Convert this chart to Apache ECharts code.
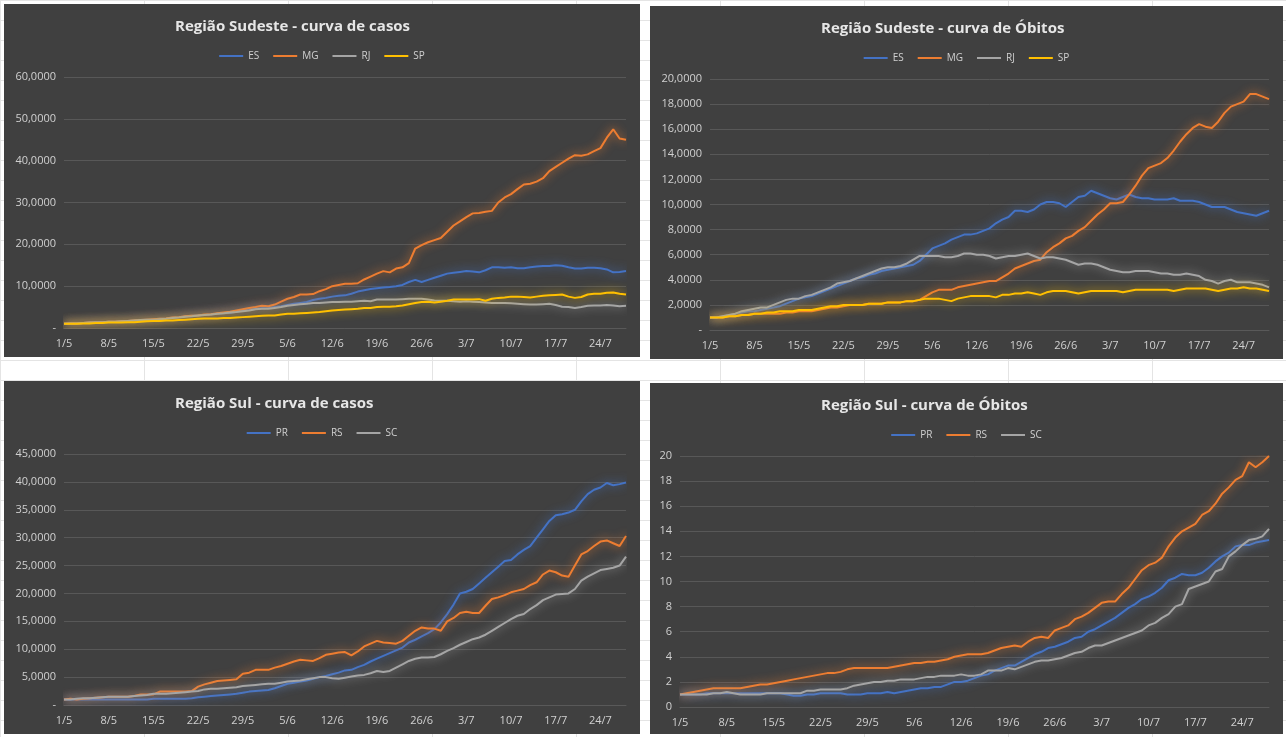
<!DOCTYPE html>
<html>
<head>
<meta charset="utf-8">
<script src="https://cdn.jsdelivr.net/npm/echarts@6/dist/echarts.min.js"></script>
<style>
body{margin:0;background:#fff;width:1286px;height:737px;position:relative;overflow:hidden;
 background-image:linear-gradient(#e4e4e4 1px,transparent 1px),linear-gradient(90deg,#e4e4e4 1px,transparent 1px);
 background-size:144px 20px;}
.p{position:absolute;background:#404040;}
</style>
</head>
<body>
<div id="c1" class="p" style="left:4px;top:4px;width:636px;height:353px"></div>
<div id="c2" class="p" style="left:650px;top:6px;width:633px;height:353px"></div>
<div id="c3" class="p" style="left:4px;top:381px;width:636px;height:353px"></div>
<div id="c4" class="p" style="left:650px;top:383px;width:633px;height:351px"></div>
<script>
// dias de 1/5 a 28/7
var dias = [];
[[5,31],[6,30],[7,28]].forEach(function(m){ for(var d=1; d<=m[1]; d++) dias.push(d+'/'+m[0]); });

// Sudeste - casos
var casosES = [1.0,1.1,1.1,1.2,1.3,1.3,1.4, 1.5,1.5,1.6,1.7,1.8,1.9,2.0, 2.1,2.2,2.3,2.5,2.6,2.8,2.9, 3.0,3.1,3.2,3.4,3.5,3.6,3.9, 4.2,4.5,4.6,4.7,4.8,5.0,5.2, 5.5,5.8,6.0,6.2,6.7,7.0,7.2, 7.5,7.7,7.8,8.2,8.7,9.0,9.3, 9.5,9.7,9.8,10.0,10.3,11.0,11.5, 11.0,11.5,12.0,12.5,13.0,13.2,13.4, 13.6,13.5,13.3,13.8,14.5,14.5,14.4, 14.5,14.3,14.3,14.5,14.7,14.8,14.8, 15.0,14.9,14.5,14.2,14.2,14.4,14.4, 14.3,14.0,13.3,13.4,13.6];
var casosMG = [1.0,1.1,1.1,1.2,1.3,1.3,1.4, 1.5,1.5,1.6,1.7,1.8,1.9,2.0, 2.1,2.2,2.3,2.5,2.6,2.8,2.9, 3.0,3.2,3.3,3.5,3.7,3.9,4.2, 4.5,4.8,5.0,5.3,5.2,5.6,6.3, 7.0,7.4,8.0,8.0,8.1,8.8,9.3, 10.0,10.3,10.6,10.6,10.7,11.6,12.3, 13.0,13.6,13.3,14.2,14.5,15.5,19.0, 19.8,20.5,21.0,21.5,23.0,24.5,25.5, 26.5,27.4,27.5,27.8,28.0,30.0,31.2, 32.0,33.2,34.3,34.5,35.0,35.8,37.5, 38.5,39.5,40.5,41.3,41.2,41.5,42.3, 43.0,45.5,47.5,45.3,45.0];
var casosRJ = [1.0,1.1,1.1,1.2,1.3,1.4,1.4, 1.5,1.5,1.6,1.7,1.8,1.9,2.0, 2.0,2.1,2.2,2.4,2.5,2.7,2.8, 3.0,3.1,3.2,3.4,3.5,3.7,3.8, 4.0,4.2,4.5,4.6,4.6,4.8,5.0, 5.3,5.5,5.7,5.8,6.0,6.0,6.1, 6.2,6.2,6.3,6.3,6.4,6.5,6.4, 6.8,6.8,6.8,6.8,6.9,7.0,7.0, 7.0,6.8,6.6,6.5,6.5,6.4,6.3, 6.4,6.3,6.2,6.1,6.0,6.0,6.0, 5.9,5.8,5.7,5.6,5.6,5.7,5.8, 5.5,5.1,5.0,4.8,5.0,5.3,5.4, 5.4,5.5,5.4,5.2,5.3];
var casosSP = [1.0,1.0,1.0,1.1,1.1,1.2,1.2, 1.3,1.3,1.3,1.4,1.4,1.5,1.6, 1.7,1.7,1.8,1.8,1.9,2.0,2.1, 2.2,2.3,2.3,2.3,2.4,2.4,2.5, 2.6,2.7,2.8,2.9,3.0,3.0,3.2, 3.4,3.4,3.5,3.6,3.7,3.8,4.0, 4.2,4.3,4.4,4.5,4.6,4.8,4.8, 5.0,5.1,5.1,5.2,5.4,5.7,6.0, 6.2,6.3,6.1,6.3,6.5,6.8,6.8, 6.8,6.8,6.9,6.5,7.0,7.2,7.3, 7.5,7.5,7.4,7.3,7.5,7.7,7.8, 7.9,8.0,7.5,7.2,7.4,8.0,8.2, 8.2,8.4,8.5,8.2,8.0];

// Sudeste - óbitos
var obitosES = [1.0,1.0,1.1,1.2,1.3,1.4,1.5, 1.5,1.6,1.7,1.8,1.9,2.1,2.3, 2.5,2.6,2.7,2.9,3.1,3.3,3.5, 3.7,3.9,4.1,4.2,4.4,4.5,4.7, 4.8,4.9,5.0,5.1,5.2,5.5,6.0, 6.5,6.7,6.9,7.2,7.4,7.6,7.6, 7.7,7.9,8.1,8.5,8.8,9.0,9.5, 9.5,9.4,9.6,10.0,10.2,10.2,10.1, 9.8,10.2,10.6,10.7,11.1,10.9,10.7, 10.5,10.4,10.6,10.8,10.6,10.5,10.5, 10.4,10.4,10.4,10.5,10.3,10.3,10.3, 10.2,10.0,9.8,9.8,9.8,9.6,9.4, 9.3,9.2,9.1,9.3,9.5];
var obitosMG = [1.0,1.0,1.0,1.1,1.1,1.2,1.2, 1.3,1.3,1.3,1.3,1.3,1.4,1.4, 1.5,1.5,1.5,1.6,1.7,1.8,1.8, 1.9,2.0,2.0,2.0,2.1,2.1,2.1, 2.2,2.2,2.2,2.3,2.3,2.4,2.7, 3.0,3.2,3.2,3.2,3.4,3.5,3.6, 3.7,3.8,3.9,3.9,4.2,4.5,4.9, 5.1,5.3,5.5,5.6,6.2,6.6,6.9, 7.3,7.5,7.9,8.2,8.7,9.2,9.6, 10.1,10.1,10.2,10.8,11.5,12.3,12.9, 13.1,13.3,13.7,14.3,15.0,15.6,16.1, 16.4,16.2,16.1,16.6,17.3,17.8,18.0, 18.2,18.8,18.8,18.6,18.4];
var obitosRJ = [1.0,1.0,1.1,1.2,1.3,1.5,1.6, 1.7,1.8,1.8,2.0,2.2,2.4,2.5, 2.5,2.7,2.8,3.0,3.2,3.4,3.7, 3.8,3.9,4.1,4.3,4.5,4.7,4.9, 5.0,5.0,5.1,5.3,5.6,5.9,5.9, 5.9,5.9,5.8,5.8,5.9,6.1,6.1, 6.0,6.0,5.9,5.7,5.8,5.9,5.9, 6.0,6.1,5.9,5.7,5.8,5.8,5.7, 5.6,5.4,5.2,5.3,5.3,5.2,5.0, 4.8,4.7,4.6,4.6,4.7,4.7,4.7, 4.6,4.5,4.5,4.4,4.4,4.5,4.4, 4.3,4.0,3.9,3.7,3.9,4.0,3.8, 3.8,3.8,3.7,3.6,3.4];
var obitosSP = [1.0,1.0,1.0,1.1,1.1,1.2,1.2, 1.3,1.3,1.4,1.4,1.5,1.5,1.5, 1.6,1.6,1.6,1.7,1.8,1.9,1.9, 2.0,2.0,2.0,2.0,2.1,2.1,2.1, 2.2,2.2,2.2,2.3,2.3,2.4,2.5, 2.5,2.5,2.4,2.3,2.5,2.6,2.7, 2.7,2.7,2.7,2.6,2.8,2.8,2.9, 2.9,3.0,2.9,2.8,3.0,3.1,3.1, 3.1,3.0,2.9,3.0,3.1,3.1,3.1, 3.1,3.1,3.0,3.1,3.2,3.2,3.2, 3.2,3.2,3.2,3.1,3.2,3.3,3.3, 3.3,3.3,3.2,3.1,3.2,3.3,3.3, 3.4,3.3,3.3,3.2,3.1];

// Sul - casos
var casosPR = [1.0,1.0,1.0,1.0,1.0,1.0,1.0, 1.0,1.0,1.0,1.0,1.0,1.0,1.0, 1.1,1.1,1.1,1.1,1.1,1.1,1.2, 1.4,1.5,1.6,1.7,1.8,1.9,2.0, 2.2,2.4,2.5,2.6,2.7,3.0,3.4, 3.8,4.0,4.2,4.4,4.7,5.0,5.2, 5.5,5.8,6.2,6.3,6.8,7.2,7.8, 8.3,8.8,9.3,9.8,10.3,11.2,11.7, 12.3,12.9,13.6,14.8,16.3,18.0,20.0, 20.3,20.8,21.8,22.8,23.8,24.8,25.8, 26.0,27.0,27.8,28.5,30.0,31.5,33.0, 34.0,34.2,34.5,35.0,36.5,37.8,38.6, 39.0,39.8,39.4,39.6,39.9];
var casosRS = [1.0,1.1,1.0,1.1,1.2,1.3,1.4, 1.5,1.5,1.5,1.5,1.6,1.9,1.9, 1.9,2.4,2.4,2.4,2.4,2.4,2.5, 3.3,3.7,4.0,4.3,4.4,4.5,4.6, 5.6,5.8,6.3,6.3,6.3,6.7,7.0, 7.4,7.8,8.1,8.0,7.9,8.4,9.0, 9.2,9.4,9.5,8.9,9.6,10.5,11.0, 11.5,11.2,11.1,11.0,11.5,12.4,13.3, 13.9,13.7,13.7,13.3,15.0,15.6,16.5, 16.7,16.5,16.5,17.8,19.0,19.3,19.7, 20.2,20.5,20.8,21.5,22.0,23.4,24.1, 23.8,23.2,23.0,25.0,27.0,27.6,28.5, 29.3,29.5,29.0,28.5,30.3];
var casosSC = [1.0,1.0,1.1,1.2,1.2,1.3,1.4, 1.5,1.5,1.5,1.5,1.6,1.7,1.8, 2.0,2.0,2.0,2.1,2.2,2.3,2.4, 2.5,2.8,2.9,2.9,3.0,3.1,3.2, 3.4,3.5,3.6,3.7,3.8,3.8,4.0, 4.2,4.3,4.4,4.6,4.8,5.0,5.0, 4.8,4.7,4.9,5.1,5.3,5.4,5.7, 6.1,5.9,6.1,6.7,7.3,7.9,8.3, 8.5,8.5,8.6,9.1,9.7,10.2,10.8, 11.3,11.8,12.1,12.6,13.3,14.0,14.7, 15.4,16.0,16.3,17.2,17.9,18.8,19.3, 19.8,19.9,20.0,20.8,22.3,23.0,23.6, 24.2,24.4,24.6,25.0,26.6];

// Sul - óbitos
var obitosPR = [1.0,1.0,1.0,1.0,1.1,1.1,1.1, 1.1,1.1,1.1,1.1,1.1,1.1,1.1, 1.1,1.1,1.0,0.9,0.9,1.0,1.0, 1.1,1.1,1.1,1.1,1.0,1.0,1.0, 1.1,1.1,1.1,1.2,1.1,1.2,1.3, 1.4,1.5,1.5,1.6,1.6,1.8,2.0, 2.0,2.1,2.3,2.5,2.6,2.9,3.1, 3.3,3.3,3.6,3.9,4.2,4.4,4.7, 4.8,5.0,5.2,5.5,5.6,6.0,6.2, 6.5,6.8,7.1,7.5,7.9,8.2,8.6, 8.8,9.1,9.5,10.1,10.3,10.6,10.5, 10.5,10.7,11.1,11.6,12.0,12.3,12.8, 12.9,12.9,13.1,13.2,13.3];
var obitosRS = [1.0,1.1,1.2,1.3,1.4,1.5,1.5, 1.5,1.5,1.5,1.6,1.7,1.8,1.8, 1.9,2.0,2.1,2.2,2.3,2.4,2.5, 2.6,2.7,2.7,2.8,3.0,3.1,3.1, 3.1,3.1,3.1,3.1,3.2,3.3,3.4, 3.5,3.5,3.6,3.6,3.7,3.8,4.0, 4.1,4.2,4.2,4.2,4.3,4.5,4.7, 4.8,4.9,4.8,5.2,5.5,5.6,5.5, 6.1,6.3,6.5,7.0,7.2,7.5,7.9, 8.3,8.4,8.4,9.0,9.5,10.2,10.9, 11.3,11.5,11.9,12.8,13.5,14.0,14.3, 14.6,15.3,15.6,16.2,17.0,17.5,18.1, 18.4,19.5,19.1,19.5,20.0];
var obitosSC = [1.0,1.0,1.0,1.0,1.0,1.1,1.1, 1.2,1.1,1.0,1.0,1.0,1.0,1.1, 1.1,1.1,1.1,1.1,1.1,1.3,1.3, 1.4,1.4,1.4,1.4,1.5,1.7,1.8, 1.9,2.0,2.0,2.1,2.1,2.2,2.2, 2.2,2.3,2.4,2.4,2.5,2.5,2.5, 2.6,2.5,2.5,2.6,2.9,2.9,2.9, 3.1,3.0,3.2,3.4,3.6,3.7,3.7, 3.8,3.9,4.1,4.3,4.4,4.7,4.9, 4.9,5.1,5.3,5.5,5.7,5.9,6.1, 6.5,6.7,7.1,7.4,8.0,8.2,9.4, 9.6,9.8,10.0,10.8,11.0,12.0,12.4, 12.9,13.3,13.4,13.6,14.2];

var cores = {ES:'#4472c4', MG:'#ed7d31', RJ:'#a5a5a5', SP:'#ffc000', PR:'#4472c4', RS:'#ed7d31', SC:'#a5a5a5'};
var fonte = '"Open Sans", sans-serif';

function fmtCasos(v){ return v === 0 ? '-' : v + ',0000'; }

function montar(id, titulo, series, max, intervalo, fmt, esq){
    var chart = echarts.init(document.getElementById(id));
    var nomes = series.map(function(s){ return s[0]; });
    chart.setOption({
        animation:false,
        title:{text:titulo, left:166, top:10,
            textStyle:{color:'#e6e6e6', fontSize:15, fontWeight:'bold', fontFamily:fonte}},
        legend:{data:nomes, top:42, left:'center', itemWidth:24, itemHeight:2, itemGap:14,
            icon:'rect', textStyle:{color:'#d0d0d0', fontSize:10, fontFamily:fonte}},
        grid:{left:esq, top:73, right:14, height:251},
        xAxis:{type:'category', data:dias, boundaryGap:false,
            axisLine:{lineStyle:{color:'#595959'}}, axisTick:{show:false},
            axisLabel:{interval:6, color:'#d0d0d0', fontSize:11, fontFamily:fonte, margin:10}},
        yAxis:{type:'value', min:0, max:max, interval:intervalo,
            axisLine:{show:false}, axisTick:{show:false},
            splitLine:{lineStyle:{color:'#585858'}},
            axisLabel:{color:'#d0d0d0', fontSize:11, fontFamily:fonte, formatter:fmt}},
        series:series.map(function(s){
            return {name:s[0], type:'line', data:s[1], symbol:'none',
                lineStyle:{color:cores[s[0]], width:2, shadowBlur:10, shadowColor:cores[s[0]]},
                itemStyle:{color:cores[s[0]]}};
        })
    });
}

montar('c1', 'Região Sudeste - curva de casos',
    [['ES',casosES],['MG',casosMG],['RJ',casosRJ],['SP',casosSP]], 60, 10, fmtCasos, 60);
montar('c2', 'Região Sudeste - curva de Óbitos',
    [['ES',obitosES],['MG',obitosMG],['RJ',obitosRJ],['SP',obitosSP]], 20, 2, fmtCasos, 60);
montar('c3', 'Região Sul - curva de casos',
    [['PR',casosPR],['RS',casosRS],['SC',casosSC]], 45, 5, fmtCasos, 60);
montar('c4', 'Região Sul - curva de Óbitos',
    [['PR',obitosPR],['RS',obitosRS],['SC',obitosSC]], 20, 2, function(v){ return String(v); }, 30);
</script>
</body>
</html>
